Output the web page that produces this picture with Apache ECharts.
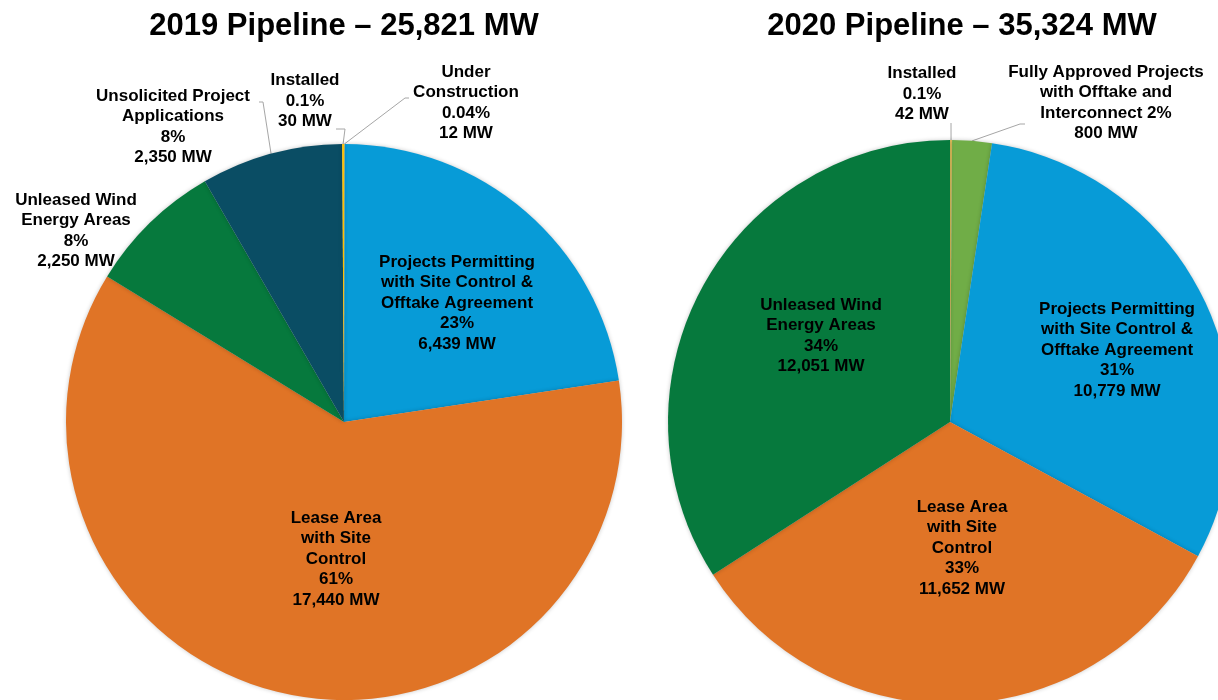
<!DOCTYPE html>
<html>
<head>
<meta charset="utf-8">
<title>Offshore wind pipeline</title>
<script src="https://cdn.jsdelivr.net/npm/echarts@6/dist/echarts.min.js"></script>
<style>
  html, body { margin: 0; padding: 0; background: #fff; }
  #chart { width: 1218px; height: 700px; }
</style>
</head>
<body>
<div id="chart"></div>
<script>
// Datos (MW)
const title2019 = '2019 Pipeline \u2013 25,821 MW';
const title2020 = '2020 Pipeline \u2013 35,324 MW';

const names2019 = [
  'Under\nConstruction',
  'Projects Permitting\nwith Site Control &\nOfftake Agreement',
  'Lease Area\nwith Site\nControl',
  'Unleased Wind\nEnergy Areas',
  'Unsolicited Project\nApplications',
  'Installed'
];
const values2019 = [12, 6439, 17440, 2250, 2350, 30];

const names2020 = [
  'Installed',
  'Fully Approved Projects\nwith Offtake and\nInterconnect',
  'Projects Permitting\nwith Site Control &\nOfftake Agreement',
  'Lease Area\nwith Site\nControl',
  'Unleased Wind\nEnergy Areas'
];
const values2020 = [42, 800, 10779, 11652, 12051];

// colores por categoria
const colors2019 = ['#F3D46A', '#079BD7', '#E07426', '#06793D', '#0A4D64', '#FFC000'];
const colors2020 = ['#E9C860', '#70AD47', '#079BD7', '#E07426', '#06793D'];

// posicion (centro del bloque de texto) de cada etiqueta y codos de la linea guia
const labelPos2019 = [[466, 103], [457, 303], [336, 559], [76, 231], [173, 127], [305, 101]];
const elbows2019 = [[[405, 98], [409, 98]], null, null, null, [[263, 102], [259, 102]], [[345, 129], [336, 129]]];
const labelPos2020 = [[922, 94], [1106, 103], [1117, 350], [962, 548], [821, 336]];
const elbows2020 = [[[951, 123]], [[1020, 124], [1025, 124]], null, null, null];

const FONT = "'Liberation Sans', Arial, sans-serif";

function fmtPct(v, total) {
  const p = v / total * 100;
  return (p < 1 ? Number(p.toPrecision(1)) : Math.round(p)) + '%';
}

function buildData(names, values, colors, elbows) {
  const total = values.reduce((a, b) => a + b, 0);
  return names.map((name, i) => ({
    name: name,
    value: values[i],
    pct: fmtPct(values[i], total),
    itemStyle: { color: colors[i] },
    labelLine: { show: !!elbows[i] }
  }));
}

function labelText(p) {
  const sep = p.name.endsWith('Interconnect') ? ' ' : '\n';
  return p.name + sep + p.data.pct + '\n' + p.value.toLocaleString('en-US') + ' MW';
}

function makeLayout(positions, elbows) {
  return function (params) {
    const pos = positions[params.dataIndex];
    const out = { x: pos[0], y: pos[1], align: 'center', verticalAlign: 'middle' };
    const el = elbows[params.dataIndex];
    if (el && params.labelLinePoints) {
      out.labelLinePoints = [params.labelLinePoints[0]].concat(el);
    }
    return out;
  };
}

function pieSeries(name, center, radius, data, positions, elbows) {
  return {
    name: name,
    type: 'pie',
    center: center,
    radius: radius,
    startAngle: 90,
    clockwise: true,
    avoidLabelOverlap: false,
    animation: false,
    data: data,
    itemStyle: {
      borderWidth: 0,
      shadowBlur: 4,
      shadowColor: 'rgba(0,0,0,0.22)'
    },
    label: {
      show: true,
      position: 'outside',
      formatter: labelText,
      fontFamily: FONT,
      fontSize: 17,
      fontWeight: 'bold',
      lineHeight: 20.5,
      color: '#000'
    },
    labelLine: {
      show: true,
      lineStyle: { color: '#A6A6A6', width: 1 }
    },
    labelLayout: makeLayout(positions, elbows),
    emphasis: { disabled: true }
  };
}

const chart = echarts.init(document.getElementById('chart'));

const option = {
  backgroundColor: '#fff',
  title: [
    {
      text: title2019,
      left: 344, top: 26, padding: 0,
      textAlign: 'center', textVerticalAlign: 'middle',
      textStyle: { fontFamily: FONT, fontSize: 31, fontWeight: 'bold', color: '#000' }
    },
    {
      text: title2020,
      left: 962, top: 26, padding: 0,
      textAlign: 'center', textVerticalAlign: 'middle',
      textStyle: { fontFamily: FONT, fontSize: 31, fontWeight: 'bold', color: '#000' }
    }
  ],
  series: [
    pieSeries('2019', [344, 422], 278, buildData(names2019, values2019, colors2019, elbows2019), labelPos2019, elbows2019),
    pieSeries('2020', [950, 422], 282, buildData(names2020, values2020, colors2020, elbows2020), labelPos2020, elbows2020)
  ]
};

chart.setOption(option);
</script>
</body>
</html>
